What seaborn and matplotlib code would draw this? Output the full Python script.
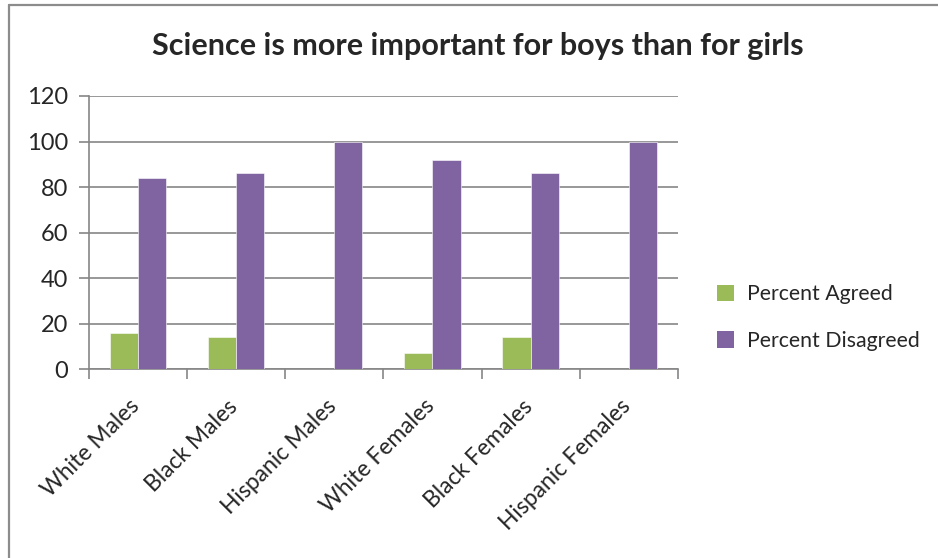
import matplotlib
matplotlib.use("Agg")
import matplotlib.pyplot as plt
import matplotlib.transforms as mtransforms
from matplotlib.lines import Line2D
from matplotlib.patches import Patch
import pandas as pd
import seaborn as sns

categories = ["White Males", "Black Males", "Hispanic Males",
              "White Females", "Black Females", "Hispanic Females"]
percent_agreed = [16, 14, 0, 7, 14, 0]
percent_disagreed = [84, 86, 100, 92, 86, 100]
series_names = ["Percent Agreed", "Percent Disagreed"]
y_ticks = [0, 20, 40, 60, 80, 100, 120]

df = pd.DataFrame({
    "group": categories * 2,
    "value": percent_agreed + percent_disagreed,
    "series": [series_names[0]] * len(categories) + [series_names[1]] * len(categories),
})

sns.set_style("white")
plt.rcParams["font.family"] = ["Lato", "DejaVu Sans"]

GREEN = "#9BBB59"
PURPLE = "#8064A2"
GRID = "#868686"

fig = plt.figure(figsize=(9.38, 5.58), dpi=100)
ax = fig.add_axes([0.0946, 0.3382, 0.7228 - 0.0946, 0.828 - 0.3382])

sns.barplot(data=df, x="group", y="value", hue="series",
            palette=[GREEN, PURPLE], saturation=1, width=0.575, gap=0,
            edgecolor="white", linewidth=0.4, ax=ax, legend=False, zorder=3)

ax.set_ylim(0, 120)
ax.set_xlim(-0.5, len(categories) - 0.5)
ax.set_yticks(y_ticks)
ax.yaxis.grid(True, color=GRID, linewidth=1.2, zorder=0)
ax.set_axisbelow(True)
ax.set_xlabel("")
ax.set_ylabel("")

for side in ["top", "right"]:
    ax.spines[side].set_visible(False)
for side in ["left", "bottom"]:
    ax.spines[side].set_color(GRID)
    ax.spines[side].set_linewidth(1.2)

ax.tick_params(axis="y", direction="out", length=7, width=1.2, color=GRID,
               labelsize=17, pad=8, left=True)
# category labels sit at centres, tick marks at the boundaries
ax.set_xticks(range(len(categories)))
ax.set_xticklabels(categories, rotation=45, ha="right", va="top",
                   rotation_mode="anchor", fontsize=16.5)
ax.tick_params(axis="x", which="major", length=0, pad=19)
shift = mtransforms.ScaledTranslation(-0.09, 0, fig.dpi_scale_trans)
for lbl in ax.get_xticklabels():
    lbl.set_transform(lbl.get_transform() + shift)
ax.set_xticks([i - 0.5 for i in range(len(categories) + 1)], minor=True)
ax.tick_params(axis="x", which="minor", direction="out", length=7, width=1.2,
               color=GRID, bottom=True)

fig.text(0.509, 0.918, "Science is more important for boys than for girls",
         ha="center", va="center", fontsize=22, fontweight="bold")

handles = [Patch(facecolor=GREEN, edgecolor="none"),
           Patch(facecolor=PURPLE, edgecolor="none")]
fig.legend(handles, series_names, loc="center left",
           bbox_to_anchor=(0.744, 0.431), frameon=False, fontsize=15.3,
           handlelength=0.8, handleheight=0.8, handletextpad=0.6,
           labelspacing=1.25)

# chart-area frame along the top and left edges
fig.add_artist(Line2D([0.0095, 0.0095], [0.0, 0.991], transform=fig.transFigure,
                      color="#8C8C8C", linewidth=1.6))
fig.add_artist(Line2D([0.0095, 1.0], [0.991, 0.991], transform=fig.transFigure,
                      color="#8C8C8C", linewidth=1.6))

fig.savefig("out.png", dpi=100, facecolor="white")
